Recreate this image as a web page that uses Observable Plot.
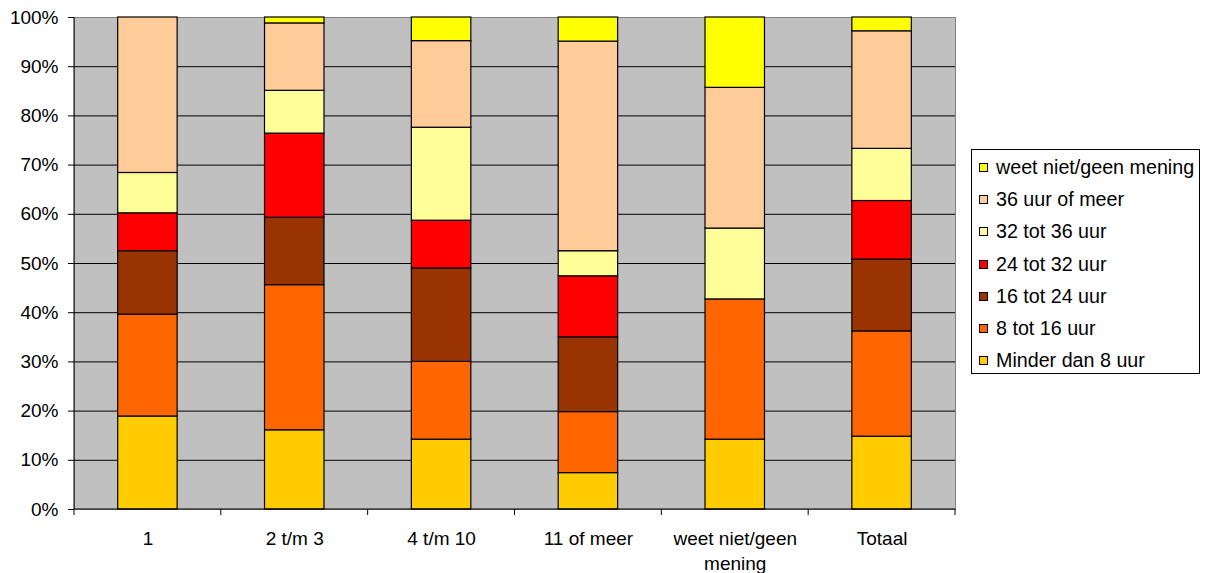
<!DOCTYPE html>
<html>
<head>
<meta charset="utf-8">
<script src="https://cdn.jsdelivr.net/npm/d3@7"></script>
<script src="https://cdn.jsdelivr.net/npm/@observablehq/plot@0.6"></script>
<style>
  html, body { margin: 0; padding: 0; background: #fff; }
  #wrap { position: relative; width: 1214px; height: 573px; font-family: "Liberation Sans", Arial, sans-serif; }
  #legend { position: absolute; left: 971px; top: 149px; width: 229px; height: 225px; border: 1px solid #000; background: #fff; box-sizing: border-box; padding-top: 1px; }
  .row { height: 32.3px; display: flex; align-items: center; font-size: 19.7px; color: #000; white-space: nowrap; }
  .sw { width: 7px; height: 7px; border: 1px solid #000; margin-left: 7px; margin-right: 8px; flex: none; }
</style>
</head>
<body>
<div id="wrap"></div>
<script>
const categories = ["1", "2 t/m 3", "4 t/m 10", "11 of meer", "weet niet/geen mening", "Totaal"];
const series = ["Minder dan 8 uur", "8 tot 16 uur", "16 tot 24 uur", "24 tot 32 uur", "32 tot 36 uur", "36 uur of meer", "weet niet/geen mening"];
const colors = ["#FFCC00", "#FF6600", "#993300", "#FF0000", "#FFFF99", "#FFCC99", "#FFFF00"];

const minder8  = [18.9, 16.1, 14.2,  7.4, 14.2, 14.8];
const u8tot16  = [20.7, 29.5, 15.8, 12.4, 28.5, 21.4];
const u16tot24 = [12.9, 13.7, 19.0, 15.2,  0.0, 14.6];
const u24tot32 = [ 7.7, 17.1,  9.7, 12.4,  0.0, 11.9];
const u32tot36 = [ 8.2,  8.7, 18.9,  5.1, 14.4, 10.6];
const u36meer  = [31.6, 13.7, 17.6, 42.6, 28.6, 23.9];
const weetNiet = [ 0.0,  1.2,  4.8,  4.9, 14.3,  2.8];

const yTicks = [0, 10, 20, 30, 40, 50, 60, 70, 80, 90, 100];
const gridTicks = [10, 20, 30, 40, 50, 60, 70, 80, 90];

const seriesValues = [minder8, u8tot16, u16tot24, u24tot32, u32tot36, u36meer, weetNiet];
const rows = [];
series.forEach((s, si) => {
  categories.forEach((c, ci) => {
    const v = seriesValues[si][ci];
    if (v > 0) rows.push({cat: c, series: s, value: v});
  });
});

const labelText = c => c === "weet niet/geen mening" ? "weet niet/geen\nmening" : c;

const boundaryTicks = (index, scales, values, dims) => {
  const g = d3.create("svg:g");
  const left = dims.marginLeft, right = dims.width - dims.marginRight;
  const bottom = dims.height - dims.marginBottom, top = dims.marginTop;
  const n = categories.length;
  const slot = (right - left) / n;
  for (let i = 0; i <= n; i++) {
    const xx = left + i * slot;
    g.append("line").attr("x1", xx).attr("x2", xx).attr("y1", bottom).attr("y2", bottom + 6)
      .attr("stroke", "#000").attr("stroke-width", 1);
  }
  g.append("line").attr("x1", left).attr("x2", left).attr("y1", top).attr("y2", bottom)
    .attr("stroke", "#000").attr("stroke-width", 1);
  g.append("line").attr("x1", left).attr("x2", right).attr("y1", bottom).attr("y2", bottom)
    .attr("stroke", "#000").attr("stroke-width", 1);
  return g.node();
};

const chart = Plot.plot({
  width: 1214,
  height: 573,
  marginLeft: 74,
  marginRight: 259,
  marginTop: 17,
  marginBottom: 64,
  style: {fontFamily: "'Liberation Sans', Arial, sans-serif", fontSize: "19px", background: "transparent", color: "#000"},
  x: {domain: categories, paddingInner: 0.595, paddingOuter: 0.2975, round: false, label: null},
  y: {domain: [0, 100], label: null},
  color: {domain: series, range: colors},
  marks: [
    Plot.frame({fill: "#C0C0C0", stroke: "#808080", strokeWidth: 1}),
    Plot.ruleY(gridTicks, {stroke: "#000", strokeWidth: 1}),
    Plot.barY(rows, {x: "cat", y: "value", fill: "series", stroke: "#000", strokeWidth: 1.2, order: series}),
    Plot.axisY({ticks: yTicks, tickFormat: d => d + "%", tickSize: 6, tickPadding: 10, fontSize: 19, label: null}),
    Plot.axisX({tickSize: 0, tickPadding: 18, fontSize: 19, lineHeight: 1.3, tickFormat: labelText, label: null}),
    boundaryTicks
  ]
});

const wrap = document.getElementById("wrap");
wrap.appendChild(chart);

const legend = document.createElement("div");
legend.id = "legend";
for (let i = series.length - 1; i >= 0; i--) {
  const row = document.createElement("div");
  row.className = "row";
  const sw = document.createElement("span");
  sw.className = "sw";
  sw.style.background = colors[i];
  const t = document.createElement("span");
  t.textContent = series[i];
  row.appendChild(sw);
  row.appendChild(t);
  legend.appendChild(row);
}
wrap.appendChild(legend);
</script>
</body>
</html>
